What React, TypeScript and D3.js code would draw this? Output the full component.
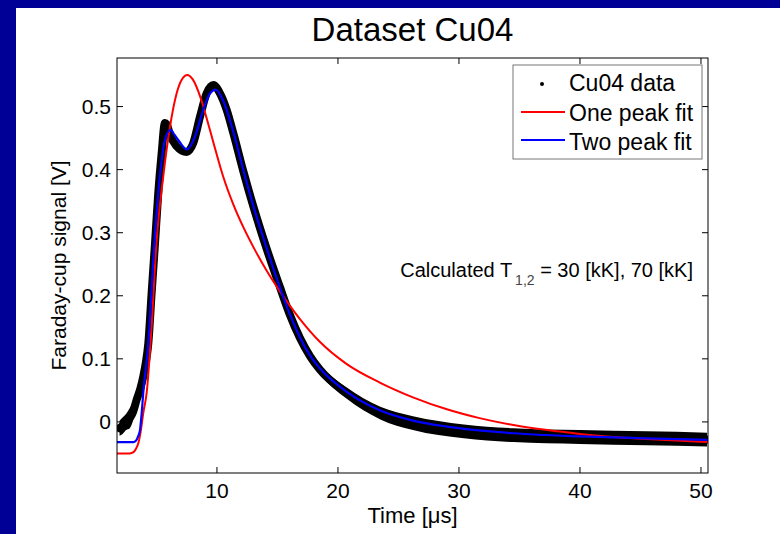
import React from "react";
import * as d3 from "d3";

const dataT = [1.95, 2.2, 2.5, 2.8, 3.05, 3.36, 3.7, 3.91, 4.13, 4.33, 4.6, 4.88, 5.15, 5.43, 5.7, 5.85, 6.12, 6.67, 7.1, 7.5, 8.04, 8.6, 9.15, 9.7, 10.25, 10.8, 11.35, 12.17, 13.0, 14.1, 15.2, 16.0, 16.86, 17.7, 18.5, 20.7, 23.5, 26.2, 30.4, 34.5, 40, 45.5, 50.5];
const dataV = [-0.01, -0.006, 0.0, 0.006, 0.015, 0.035, 0.055, 0.072, 0.095, 0.125, 0.204, 0.283, 0.363, 0.426, 0.474, 0.472, 0.455, 0.437, 0.43, 0.428, 0.442, 0.484, 0.521, 0.534, 0.521, 0.495, 0.458, 0.398, 0.342, 0.275, 0.214, 0.171, 0.133, 0.104, 0.083, 0.046, 0.014, -0.002, -0.015, -0.021, -0.024, -0.026, -0.028];
const dataSpread = [0.012, 0.013, 0.013, 0.016, 0.014, 0.01, 0.006, 0, 0, 0, 0, 0, 0, 0, 0, 0, 0, 0, 0, 0, 0, 0, 0, 0, 0, 0, 0, 0, 0, 0, 0, 0, 0.004, 0.006, 0.007, 0.009, 0.01, 0.011, 0.011, 0.011, 0.011, 0.011, 0.011];

const twoT = [1.74, 3.1, 3.3, 3.5, 3.64, 3.78, 3.91, 4.33, 4.74, 5.15, 5.5, 5.7, 6.17, 6.5, 6.8, 7.5, 8.18, 8.87, 9.4, 9.9, 10.5, 11.35, 12.17, 13.0, 14.1, 15.2, 16.0, 16.86, 17.7, 18.5, 20.7, 23.5, 26.2, 29, 34.5, 40, 45.5, 50.58];
const twoV = [-0.032, -0.032, -0.03, -0.022, -0.013, 0.014, 0.046, 0.125, 0.257, 0.363, 0.425, 0.447, 0.463, 0.455, 0.447, 0.432, 0.452, 0.495, 0.52, 0.527, 0.51, 0.46, 0.40, 0.343, 0.276, 0.213, 0.172, 0.134, 0.105, 0.085, 0.048, 0.018, 0.002, -0.0075, -0.018, -0.023, -0.026, -0.0285];

const oneT = [1.74, 2.8, 3.1, 3.3, 3.5, 3.7, 3.91, 4.19, 4.6, 5.0, 5.56, 6.12, 6.67, 7.1, 7.55, 8.0, 8.68, 9.2, 9.75, 10.5, 11.35, 12.2, 13.1, 14.1, 15.2, 16.86, 18.5, 20.7, 23.5, 26.2, 29, 31.7, 34.5, 37.3, 40, 42.8, 45.5, 50.58];
const oneV = [-0.05, -0.05, -0.048, -0.043, -0.034, -0.015, 0.014, 0.046, 0.151, 0.283, 0.389, 0.468, 0.521, 0.543, 0.55, 0.543, 0.512, 0.478, 0.44, 0.39, 0.345, 0.308, 0.274, 0.24, 0.207, 0.163, 0.127, 0.092, 0.062, 0.039, 0.02, 0.006, -0.005, -0.013, -0.019, -0.024, -0.027, -0.032];

const xTicks = [10, 20, 30, 40, 50];
const yTicks = [0, 0.1, 0.2, 0.3, 0.4, 0.5];
const yTickLabels = ["0", "0.1", "0.2", "0.3", "0.4", "0.5"];
const legendLabels = ["Cu04 data", "One peak fit", "Two peak fit"];

const FONT = "'Liberation Sans', Arial, Helvetica, sans-serif";

export default function App() {
  const W = 780, H = 534;
  const L = 117, R = 708, T = 58, B = 473;
  const x = d3.scaleLinear().domain([1.74, 50.58]).range([L, R]);
  const y = d3.scaleLinear().domain([-0.081, 0.577]).range([B, T]);
  const line = d3
    .line<[number, number]>()
    .x((d) => x(d[0]))
    .y((d) => y(d[1]))
    .curve(d3.curveMonotoneX);
  const band = d3
    .area<number>()
    .x((i) => x(dataT[i]))
    .y0((i) => y(dataV[i] - dataSpread[i]))
    .y1((i) => y(dataV[i] + dataSpread[i]))
    .curve(d3.curveMonotoneX);
  const zip = (a: number[], b: number[]) => a.map((t, i) => [t, b[i]] as [number, number]);
  const tk = 6;
  return (
    <div style={{ position: "fixed", left: 0, top: 0 }}>
      <svg width={W} height={H} style={{ display: "block" }} fontFamily={FONT}>
        <rect x={0} y={0} width={W} height={H} fill="#000096" />
        <rect x={16} y={8} width={W - 16} height={H - 8} fill="#ffffff" />
        <defs>
          <clipPath id="plotclip">
            <rect x={L} y={T} width={R - L} height={B - T} />
          </clipPath>
        </defs>
        <text x={(L + R) / 2} y={41} textAnchor="middle" fontSize={33} fill="#000">
          Dataset Cu04
        </text>
        <g clipPath="url(#plotclip)">
          <path d={band(dataT.map((_, i) => i)) || ""} fill="#000" stroke="none" />
          <path d={line(zip(dataT, dataV)) || ""} fill="none" stroke="#000" strokeWidth={8} strokeLinejoin="round" strokeLinecap="round" />
          <path d={line(zip(oneT, oneV)) || ""} fill="none" stroke="#ff0000" strokeWidth={2} />
          <path d={line(zip(twoT, twoV)) || ""} fill="none" stroke="#0000ff" strokeWidth={2.2} />
        </g>
        <rect x={L} y={T} width={R - L} height={B - T} fill="none" stroke="#000" strokeWidth={1} />
        {xTicks.map((t) => (
          <g key={"x" + t}>
            <line x1={x(t)} x2={x(t)} y1={B} y2={B - tk} stroke="#000" />
            <line x1={x(t)} x2={x(t)} y1={T} y2={T + tk} stroke="#000" />
            <text x={x(t)} y={498} textAnchor="middle" fontSize={21} fill="#000">
              {t}
            </text>
          </g>
        ))}
        {yTicks.map((v, i) => (
          <g key={"y" + v}>
            <line x1={L} x2={L + tk} y1={y(v)} y2={y(v)} stroke="#000" />
            <line x1={R} x2={R - tk} y1={y(v)} y2={y(v)} stroke="#000" />
            <text x={L - 6} y={y(v) + 7.5} textAnchor="end" fontSize={21} fill="#000">
              {yTickLabels[i]}
            </text>
          </g>
        ))}
        <text x={(L + R) / 2} y={523} textAnchor="middle" fontSize={22} fill="#000">
          Time [μs]
        </text>
        <text
          transform={`translate(66,${(T + B) / 2}) rotate(-90)`}
          textAnchor="middle"
          fontSize={21}
          fill="#000"
        >
          Faraday-cup signal [V]
        </text>
        <text x={693} y={277} textAnchor="end" fontSize={20} fill="#000">
          Calculated T
          <tspan dx={3} dy={8} fontSize={14} fill="#444">1,2</tspan>
          <tspan dy={-8}> = 30 [kK], 70 [kK]</tspan>
        </text>
        <g>
          <rect x={513} y={65} width={189} height={94} fill="#fff" stroke="#777" strokeWidth={1} />
          <circle cx={542} cy={84} r={2} fill="#000" />
          <line x1={521} x2={565} y1={112} y2={112} stroke="#ff0000" strokeWidth={2} />
          <line x1={521} x2={565} y1={140} y2={140} stroke="#0000ff" strokeWidth={2} />
          {legendLabels.map((s, i) => (
            <text key={s} x={569} y={91 + i * 29.5} fontSize={23} fill="#000">
              {s}
            </text>
          ))}
        </g>
      </svg>
    </div>
  );
}
